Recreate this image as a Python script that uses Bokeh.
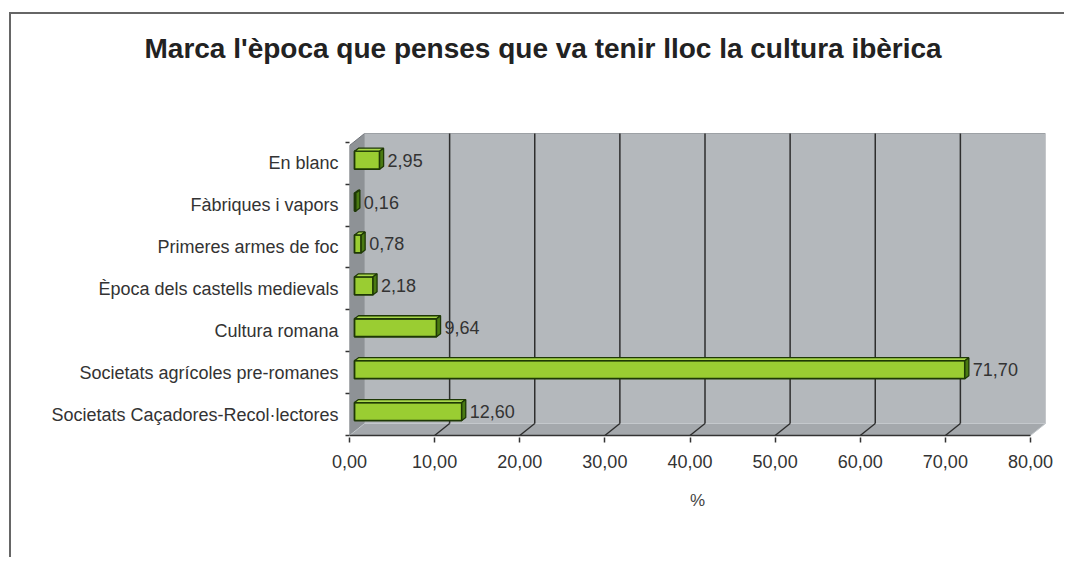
from bokeh.plotting import figure
from bokeh.models import FixedTicker, Range1d
from bokeh.embed import file_html
from bokeh.resources import INLINE
from bokeh.core.properties import value

# ---------------- data ----------------
title_text = "Marca l'època que penses que va tenir lloc la cultura ibèrica"
categories = [
    "Societats Caçadores-Recol·lectores",
    "Societats agrícoles pre-romanes",
    "Cultura romana",
    "Època dels castells medievals",
    "Primeres armes de foc",
    "Fàbriques i vapors",
    "En blanc",
]
values = [12.60, 71.70, 9.64, 2.18, 0.78, 0.16, 2.95]
x_ticks = [0, 10, 20, 30, 40, 50, 60, 70, 80]
x_label = "%"


def fmt(v):
    return f"{v:.2f}".replace(".", ",")


value_labels = [fmt(v) for v in values]
x_tick_labels = [fmt(t) for t in x_ticks]

# ---------------- layout (page pixels) ----------------
ML, MT = 9, 12          # outer border position
BW = 2                  # border width
OX, OY = ML + BW, MT + BW   # page position of canvas origin
W, H = 1055, 545
FL, FR, FT, FB = 349, 1045, 80, 437
Y0 = 435            # page y of value axis front edge
WALL_TOP = 133      # page y of back wall top
DEPTH_X, DEPTH_Y = 15, 12
ROW = 41.9

xmax = x_ticks[-1]
px_x = (FR - FL - DEPTH_X) / xmax
px_y = ROW
ddx = DEPTH_X / px_x
ddy = DEPTH_Y / px_y
wall_top = (Y0 - WALL_TOP) / px_y

p = figure(
    width=W, height=H,
    x_range=Range1d(0, xmax + ddx),
    y_range=Range1d(-(FB - Y0) / px_y, (Y0 - FT) / px_y),
    output_backend="svg", toolbar_location=None,
    min_border_left=FL - OX, min_border_right=OX + W - FR,
    min_border_top=FT - OY, min_border_bottom=OY + H - FB,
    background_fill_color="white", border_fill_color="white",
    outline_line_color=None,
)
p.margin = (MT, 0, 0, ML)
p.styles = {"border-top": "2px solid #666666", "border-left": "2px solid #666666"}
p.xgrid.grid_line_color = None
p.ygrid.grid_line_color = None

# ---------------- 3D walls ----------------
p.patch([0, ddx, ddx, 0], [0, ddy, wall_top, wall_top - ddy],
        fill_color="#8e9296", line_color="#70747a", line_width=1)
p.quad(left=ddx, right=xmax + ddx, bottom=ddy, top=wall_top,
       fill_color="#b4b8bc", line_color="#9da1a5", line_width=1)
p.patch([0, xmax, xmax + ddx, ddx], [0, 0, ddy, ddy],
        fill_color="#a4a8ac", line_color="#c4c8cc", line_width=1)
inner = x_ticks[1:-1]
p.segment(x0=[t + ddx for t in inner], y0=ddy, x1=[t + ddx for t in inner], y1=wall_top,
          line_color="#2e2e2e", line_width=1.5)
p.segment(x0=inner, y0=0, x1=[t + ddx for t in inner], y1=ddy,
          line_color="#2e2e2e", line_width=1.5)
p.segment(x0=0, y0=0, x1=xmax, y1=0, line_color="#333333", line_width=1.5)

# ---------------- 3D bars ----------------
bx0 = 5 / px_x
bdx = 4 / px_x
bdy = 3 / px_y
hh = 9 / px_y
shift = 3 / px_y
centers = [i + 0.5 + shift for i in range(len(categories))]
rights = [v + bx0 for v in values]

p.quad(left=bx0, right=rights, bottom=[c - hh for c in centers], top=[c + hh for c in centers],
       fill_color="#9acd32", line_color="#1e3805", line_width=1.8)
top_xs = [[bx0, r, r + bdx, bx0 + bdx] for r in rights]
top_ys = [[c + hh, c + hh, c + hh + bdy, c + hh + bdy] for c in centers]
p.patches(top_xs, top_ys, fill_color="#a9d84a", line_color="#1e3805", line_width=1.3)
side_xs = [[r, r + bdx, r + bdx, r] for r in rights]
side_ys = [[c - hh, c - hh + bdy, c + hh + bdy, c + hh] for c in centers]
p.patches(side_xs, side_ys, fill_color="#4a7a12", line_color="#1e3805", line_width=1.3)

p.text(x=[r + bdx + 4 / px_x for r in rights], y=centers, text=value_labels,
       text_font=value("Liberation Sans"), text_font_size="18px", text_color="#333333",
       text_baseline="middle", text_align="left")

# ---------------- axes ----------------
xa = p.xaxis[0]
xa.ticker = FixedTicker(ticks=x_ticks)
xa.major_label_overrides = {t: l for t, l in zip(x_ticks, x_tick_labels)}
xa.axis_line_color = None
xa.major_tick_in = 0
xa.major_tick_out = 5
xa.major_tick_line_color = "#333333"
xa.major_tick_line_width = 1.5
xa.minor_tick_line_color = None
xa.major_label_text_font = "Liberation Sans"
xa.major_label_text_font_size = "18px"
xa.major_label_text_color = "#333333"
xa.major_label_standoff = 12
xa.axis_label = x_label
xa.axis_label_text_font = "Liberation Sans"
xa.axis_label_text_font_size = "17px"
xa.axis_label_text_font_style = "normal"
xa.axis_label_text_color = "#444444"
xa.axis_label_standoff = 20

ya = p.yaxis[0]
ya.ticker = FixedTicker(ticks=[i + 0.5 for i in range(len(categories))],
                        minor_ticks=list(range(len(categories) + 1)))
ya.major_label_overrides = {i + 0.5: c for i, c in enumerate(categories)}
ya.axis_line_color = None
ya.major_tick_in = 0
ya.major_tick_out = 0
ya.minor_tick_in = 0
ya.minor_tick_out = 4
ya.minor_tick_line_color = "#333333"
ya.minor_tick_line_width = 1.5
ya.major_label_text_font = "Liberation Sans"
ya.major_label_text_font_size = "18px"
ya.major_label_text_color = "#333333"
ya.major_label_standoff = 7

p.title.text = title_text
p.title.align = "left"
p.title.vertical_align = "middle"
p.title.offset = 144 - FL
p.title.standoff = 32
p.title.text_font = "Liberation Sans"
p.title.text_font_size = "28px"
p.title.text_font_style = "bold"
p.title.text_color = "#222222"

open("out.html", "w").write(file_html(p, INLINE))
